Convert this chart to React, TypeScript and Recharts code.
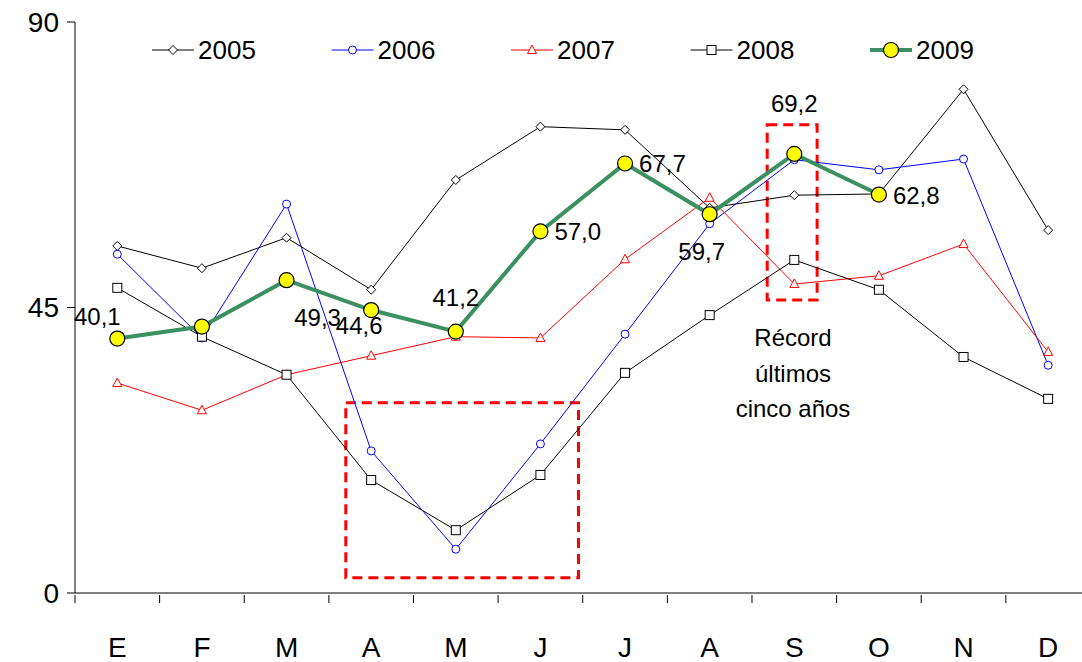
import React from "react";
import { LineChart, Line, XAxis, YAxis, ReferenceArea, LabelList } from "recharts";

const months = ["E", "F", "M", "A", "M", "J", "J", "A", "S", "O", "N", "D"];
const s2005 = [54.7, 51.2, 56.0, 47.8, 65.1, 73.5, 73.0, 60.7, 62.7, 62.9, 79.4, 57.2];
const s2006 = [53.4, 40.2, 61.3, 22.4, 6.9, 23.5, 40.8, 58.2, 68.3, 66.7, 68.4, 35.9];
const s2007 = [33.1, 28.8, 34.4, 37.4, 40.4, 40.2, 52.6, 62.3, 48.7, 50.0, 55.0, 38.0];
const s2008 = [48.1, 40.4, 34.4, 17.8, 9.9, 18.6, 34.7, 43.8, 52.5, 47.8, 37.2, 30.6];
const s2009: (number | null)[] = [40.1, 42.0, 49.3, 44.6, 41.2, 57.0, 67.7, 59.7, 69.2, 62.8, null, null];
const labels2009 = ["40,1", "", "49,3", "44,6", "41,2", "57,0", "67,7", "59,7", "69,2", "62,8"];
const yTicks = [0, 45, 90];

const data = months.map((m, i) => ({
  x: i, m, a: s2005[i], b: s2006[i], c: s2007[i], d: s2008[i], e: s2009[i],
}));

const FONT = "Liberation Sans, Arial, sans-serif";
const BAND = 1007 / 11.9;

const Diamond = (p: any) => p.cx == null ? null : (
  <path d={`M${p.cx},${p.cy - 4.5}L${p.cx + 4.5},${p.cy}L${p.cx},${p.cy + 4.5}L${p.cx - 4.5},${p.cy}Z`} fill="#fff" stroke="#000" strokeWidth={1} />
);
const Circ = (p: any) => p.cx == null ? null : <circle cx={p.cx} cy={p.cy} r={4} fill="#fff" stroke="#0000ff" strokeWidth={1} />;
const Tri = (p: any) => p.cx == null ? null : (
  <path d={`M${p.cx},${p.cy - 5}L${p.cx + 4.5},${p.cy + 3.5}L${p.cx - 4.5},${p.cy + 3.5}Z`} fill="#fff" stroke="#ff0000" strokeWidth={1} />
);
const Sq = (p: any) => p.cx == null ? null : <rect x={p.cx - 4.5} y={p.cy - 4.5} width={9} height={9} fill="#fff" stroke="#000" strokeWidth={1} />;
const Big = (p: any) => p.cx == null || p.value == null ? null : <circle cx={p.cx} cy={p.cy} r={7.5} fill="#ffff00" stroke="#000" strokeWidth={1.2} />;

const offs: [number, number, string][] = [
  [-20, -14, "middle"], [0, 0, "middle"], [31, 46, "middle"], [-12, 24, "middle"], [0, -26, "middle"],
  [14, 9, "start"], [14, 9, "start"], [-8, 46, "middle"], [0, -42, "middle"], [14, 9, "start"],
];
const Lbl = (p: any) => {
  const i = p.index;
  const t = labels2009[i];
  if (!t) return null;
  const [dx, dy, a] = offs[i];
  return <text x={p.x + dx} y={p.y + dy} textAnchor={a} fontSize={24} fontFamily={FONT} fill="#000">{t}</text>;
};

const MonthTick = (p: any) => {
  const { x, y, payload } = p;
  const bx = x - BAND / 2;
  return (
    <g>
      <line x1={bx} x2={bx} y1={y} y2={y + 8} stroke="#000" strokeWidth={1} />
      <text x={x} y={y + 62} textAnchor="middle" fontSize={28} fontFamily={FONT} fill="#000">{months[payload.value]}</text>
    </g>
  );
};

const legendItems = [
  { n: "2005", c: "#000", S: Diamond, w: 1 },
  { n: "2006", c: "#0000ff", S: Circ, w: 1 },
  { n: "2007", c: "#ff0000", S: Tri, w: 1 },
  { n: "2008", c: "#000", S: Sq, w: 1 },
  { n: "2009", c: "#3a9060", S: Big, w: 4 },
];

export default function App() {
  return (
    <div style={{ position: "absolute", left: 0, top: 0, width: 1082, height: 662, background: "#fff" }}>
      <LineChart width={1082} height={662} data={data} margin={{ top: 22, right: 0, bottom: 0, left: 0 }}>
        <XAxis dataKey="x" type="number" domain={[-0.5, 11.4]} allowDataOverflow
          ticks={[0, 1, 2, 3, 4, 5, 6, 7, 8, 9, 10, 11]} tick={<MonthTick />} tickLine={false} tickSize={0}
          stroke="#000" height={69} interval={0} />
        <YAxis domain={[0, 90]} ticks={yTicks} width={75} stroke="#000" tickSize={8} tickMargin={8}
          tick={{ fontSize: 28, fontFamily: FONT, fill: "#000" }} />
        <ReferenceArea x1={2.7} x2={5.45} y1={2.4} y2={30} fill="none" stroke="#ff0000" strokeWidth={3} strokeDasharray="10 6" />
        <ReferenceArea x1={7.68} x2={8.27} y1={46.2} y2={73.8} fill="none" stroke="#ff0000" strokeWidth={3} strokeDasharray="10 6" />
        <Line dataKey="a" stroke="#000" strokeWidth={1} dot={<Diamond />} isAnimationActive={false} />
        <Line dataKey="b" stroke="#0000ff" strokeWidth={1} dot={<Circ />} isAnimationActive={false} />
        <Line dataKey="c" stroke="#ff0000" strokeWidth={1} dot={<Tri />} isAnimationActive={false} />
        <Line dataKey="d" stroke="#000" strokeWidth={1} dot={<Sq />} isAnimationActive={false} />
        <Line dataKey="e" stroke="#3a9060" strokeWidth={4} dot={<Big />} isAnimationActive={false}>
          <LabelList dataKey="e" content={<Lbl />} />
        </Line>
      </LineChart>
      <svg style={{ position: "absolute", left: 0, top: 0 }} width={1082} height={662}>
        {legendItems.map((it, i) => {
          const x0 = 152 + i * 179.5;
          const S = it.S;
          return (
            <g key={it.n}>
              <line x1={x0} x2={x0 + 42} y1={50} y2={50} stroke={it.c} strokeWidth={it.w} />
              <S cx={x0 + 21} cy={50} value={1} />
              <text x={x0 + 46} y={59} fontSize={26} fontFamily={FONT} fill="#000">{it.n}</text>
            </g>
          );
        })}
        {["Récord", "últimos", "cinco años"].map((t, i) => (
          <text key={t} x={793} y={346 + i * 35.5} textAnchor="middle" fontSize={24} fontFamily={FONT} fill="#000">{t}</text>
        ))}
      </svg>
    </div>
  );
}
